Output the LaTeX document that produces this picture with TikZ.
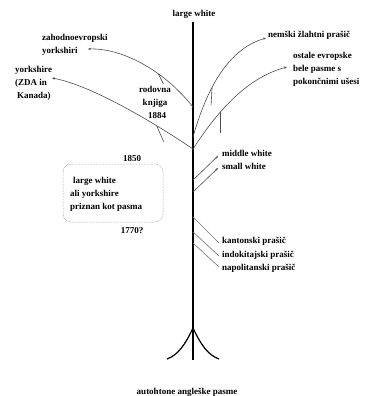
\documentclass[tikz,border=0pt]{standalone}
\usepackage{fontspec}
\setmainfont{Liberation Serif}
\usetikzlibrary{arrows.meta}
\begin{document}
\begin{tikzpicture}[x=1pt,y=-1pt,
  lbl/.style={font=\fontsize{9}{13}\selectfont\bfseries,inner sep=0pt,align=left},
  branch/.style={draw=black!70,line width=0.6pt},
  arr/.style={branch,-{Stealth[length=3pt,width=2.4pt]}},
  thin/.style={draw=black!55,line width=0.6pt},
  trunk/.style={draw=black,line width=1.3pt},
  root/.style={draw=black,line width=1.2pt}]
\useasboundingbox (0,0) rectangle (369,396);
% trunk and roots
\coordinate (top) at (193,22);
\coordinate (bot) at (193,360);
\coordinate (rootj) at (193,328);
\coordinate (rl) at (167,359);
\coordinate (rr) at (219,359);
\draw[trunk] (top) -- (bot);
\draw[root] (rootj) .. controls (185,345) and (178,355) .. (rl);
\draw[root] (rootj) .. controls (201,345) and (208,355) .. (rr);
% junctions on trunk
\coordinate (j1) at (193,107);
\coordinate (j2) at (193,137);
\coordinate (j3) at (193,149);
\coordinate (j4) at (193,180);
\coordinate (j5) at (193,192);
\coordinate (j6) at (193,217);
\coordinate (j7) at (193,232);
\coordinate (j8) at (193,243);
% labels
\node[lbl] (lw) at (194,14) {large white};
\node[lbl] (aut) at (187,392) {autohtone angleške pasme};
\node[lbl,anchor=west] (zah) at (42,45) {zahodnoevropski\\yorkshiri};
\node[lbl,anchor=west] (yor) at (15,83.5) {yorkshire\\(ZDA in\\\hspace{2pt}Kanada)};
\node[lbl,align=center] (rod) at (155,102) {rodovna\\knjiga\\\hspace{4pt}1884};
\node[lbl,anchor=west] (nem) at (268,35) {nemški žlahtni prašič};
\node[lbl,anchor=west] (ost) at (293,69) {ostale evropske\\bele pasme s\\pokončnimi ušesi};
\node[lbl,anchor=west] (mid) at (222,153) {middle white};
\node[lbl,anchor=west] (sma) at (222,166) {small white};
\node[lbl,anchor=west] (kan) at (222,241) {kantonski prašič};
\node[lbl,anchor=west] (ind) at (222,255) {indokitajski prašič};
\node[lbl,anchor=west] (nap) at (222,268) {napolitanski prašič};
\node[lbl] (y1850) at (132,159) {1850};
\node[lbl] (y1770) at (132,231) {1770?};
\node[lbl,anchor=west] (box) at (70,194) {\hspace{3pt}large white\\ali yorkshire\\priznan kot pasma};
\draw[draw=black!55,line width=0.5pt,densely dotted,rounded corners=8pt] (63,164) rectangle (163,222);
% arrow tips
\coordinate (tzah) at (88,49);
\coordinate (tyor) at (52,78);
\coordinate (tnem) at (266,38);
\coordinate (tost) at (287,67);
\coordinate (tmid) at (218,156);
\coordinate (tsma) at (218,168);
\coordinate (ekan) at (219,243);
\coordinate (eind) at (219,256);
\coordinate (enap) at (219,267);
% branches (with points for the ticks)
\draw[arr] (j1) .. controls (162,68) and (120,48) .. coordinate[pos=0.34] (k1a) (tzah);
\draw[arr] (j3) .. controls (150,120) and (90,85) .. coordinate[pos=0.26] (k2a) (tyor);
\draw[arr] (j2) .. controls (205,95) and (225,50) .. coordinate[pos=0.4] (k3a) (tnem);
\draw[arr] (j3) .. controls (215,115) and (245,78) .. coordinate[pos=0.36] (k4a) (tost);
\draw[arr] (j4) -- (tmid);
\draw[arr] (j5) -- (tsma);
\draw[thin] (j6) -- (ekan);
\draw[thin] (j7) -- (eind);
\draw[thin] (j8) -- (enap);
% ticks
\coordinate (k1b) at ([shift={(5,10)}]k1a);
\coordinate (k2b) at ([shift={(7,16)}]k2a);
\coordinate (k3b) at ([shift={(-1,18)}]k3a);
\coordinate (k4b) at ([shift={(0,21)}]k4a);
\draw[branch] (k1a) -- (k1b);
\draw[branch] (k2a) -- (k2b);
\draw[branch] (k3a) -- (k3b);
\draw[branch] (k4a) -- (k4b);
\end{tikzpicture}
\end{document}
